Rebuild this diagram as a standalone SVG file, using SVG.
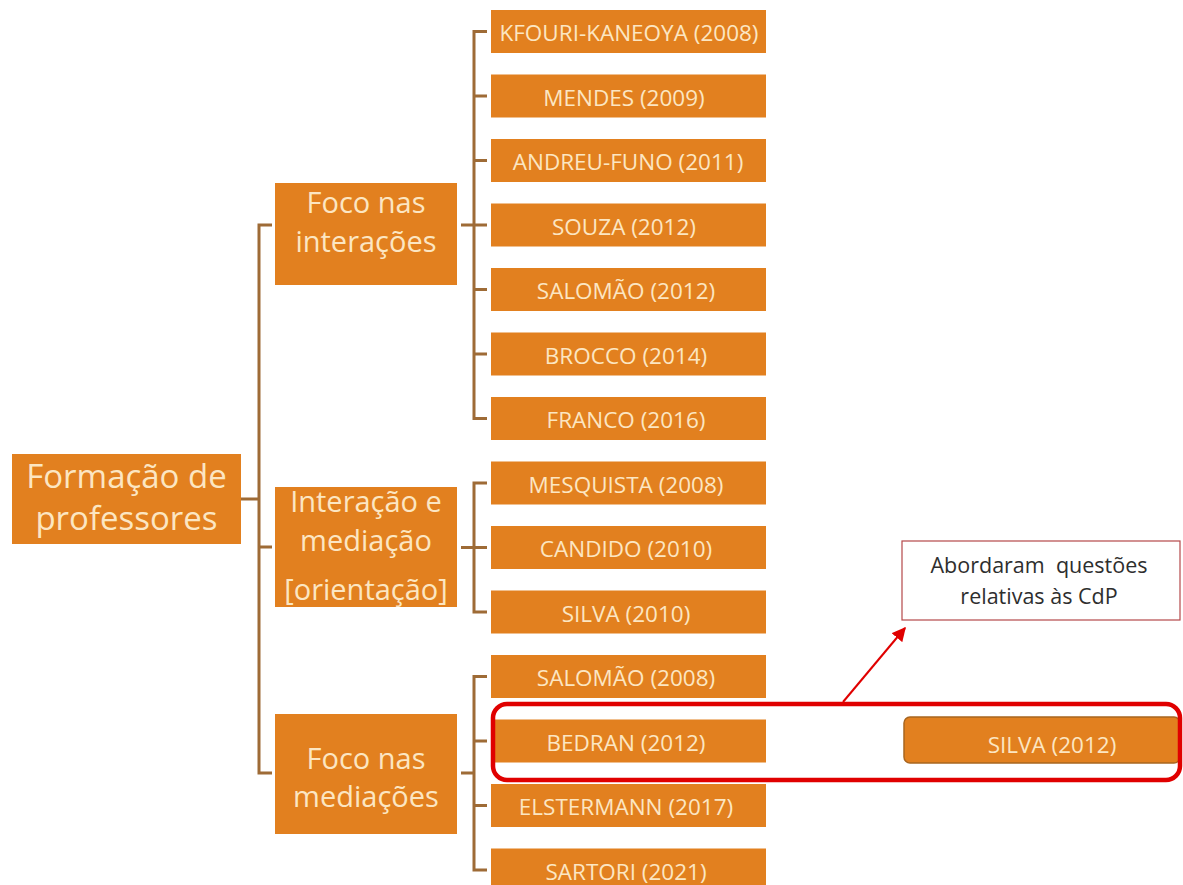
<svg xmlns="http://www.w3.org/2000/svg" width="1183" height="885" viewBox="0 0 1183 885">
<defs>
<style>
.box{fill:#E2801F;}
.t{font-family:"Open Sans","Noto Sans",sans-serif;fill:#FCE6C2;text-anchor:middle;}
.leaf{font-size:22.5px;}
.mid{font-size:29px;}
.root{font-size:33px;}
.con{stroke:#9E6B36;stroke-width:3;fill:none;}
.note{font-family:"Open Sans","Noto Sans",sans-serif;font-size:21.5px;fill:#2E2E2E;text-anchor:middle;white-space:pre;}
</style>
<marker id="ah" viewBox="0 0 10 10" refX="9" refY="5" markerWidth="7" markerHeight="7" orient="auto" markerUnits="strokeWidth">
<path d="M0,0 L10,5 L0,10 z" fill="#E00000"/>
</marker>
</defs>
<rect width="1183" height="885" fill="#FFFFFF"/>

<g id="connectors">
<path class="con" d="M241,499 H259 M272,225 H259 V773 H272 M259,547 H272"/>
<path class="con" d="M461,225 H474 M487,31.5 H474 V418.5 H487 M474,96 H487 M474,160.5 H487 M474,225 H487 M474,289.5 H487 M474,354 H487"/>
<path class="con" d="M461,547.5 H474 M487,483 H474 V612 H487 M474,547.5 H487"/>
<path class="con" d="M461,773 H474 M487,676.5 H474 V870 H487 M474,741 H487 M474,805.5 H487"/>
<line x1="843" y1="702" x2="905" y2="628" stroke="#E00000" stroke-width="2" marker-end="url(#ah)"/>
</g>

<g id="root">
<rect class="box" x="12" y="454" width="229" height="90"/>
<text class="t root" x="126.5" y="488">Formação de</text>
<text class="t root" x="126.5" y="530">professores</text>
</g>

<g id="mid1">
<rect class="box" x="275" y="183" width="182" height="102"/>
<text class="t mid" x="366" y="213">Foco nas</text>
<text class="t mid" x="366" y="252">interações</text>
</g>
<g id="mid2">
<rect class="box" x="275" y="487" width="182" height="120"/>
<text class="t mid" x="366" y="512">Interação e</text>
<text class="t mid" x="366" y="551">mediação</text>
<text class="t mid" x="366" y="600">[orientação]</text>
</g>
<g id="mid3">
<rect class="box" x="275" y="714" width="182" height="120"/>
<text class="t mid" x="366" y="769">Foco nas</text>
<text class="t mid" x="366" y="807">mediações</text>
</g>

<g id="leaf1"><rect class="box" x="491" y="10" width="275" height="43"/><text class="t leaf" x="629" y="41">KFOURI-KANEOYA (2008)</text></g>
<g id="leaf2"><rect class="box" x="491" y="74.5" width="275" height="43"/><text class="t leaf" x="624" y="105.5">MENDES (2009)</text></g>
<g id="leaf3"><rect class="box" x="491" y="139" width="275" height="43"/><text class="t leaf" x="628" y="170">ANDREU-FUNO (2011)</text></g>
<g id="leaf4"><rect class="box" x="491" y="203.5" width="275" height="43"/><text class="t leaf" x="624" y="234.5">SOUZA (2012)</text></g>
<g id="leaf5"><rect class="box" x="491" y="268" width="275" height="43"/><text class="t leaf" x="626" y="299">SALOMÃO (2012)</text></g>
<g id="leaf6"><rect class="box" x="491" y="332.5" width="275" height="43"/><text class="t leaf" x="626" y="363.5">BROCCO (2014)</text></g>
<g id="leaf7"><rect class="box" x="491" y="397" width="275" height="43"/><text class="t leaf" x="626" y="428">FRANCO (2016)</text></g>
<g id="leaf8"><rect class="box" x="491" y="461.5" width="275" height="43"/><text class="t leaf" x="626" y="492.5">MESQUISTA (2008)</text></g>
<g id="leaf9"><rect class="box" x="491" y="526" width="275" height="43"/><text class="t leaf" x="626" y="557">CANDIDO (2010)</text></g>
<g id="leaf10"><rect class="box" x="491" y="590.5" width="275" height="43"/><text class="t leaf" x="626" y="621.5">SILVA (2010)</text></g>
<g id="leaf11"><rect class="box" x="491" y="655" width="275" height="43"/><text class="t leaf" x="626" y="686">SALOMÃO (2008)</text></g>
<g id="leaf12"><rect class="box" x="491" y="719.5" width="275" height="43"/><text class="t leaf" x="626" y="750.5">BEDRAN (2012)</text></g>
<g id="leaf13"><rect class="box" x="491" y="784" width="275" height="43"/><text class="t leaf" x="626" y="815">ELSTERMANN (2017)</text></g>
<g id="leaf14"><rect class="box" x="491" y="848.5" width="275" height="43"/><text class="t leaf" x="626" y="879.5">SARTORI (2021)</text></g>

<g id="silva2012">
<rect x="904" y="717" width="276" height="46" rx="6" fill="#E2801F" stroke="#A8651F" stroke-width="1.5"/>
<text class="t leaf" x="1052" y="753">SILVA (2012)</text>
</g>

<g id="highlight">
<rect x="493" y="704" width="687" height="76" rx="14" fill="none" stroke="#E00000" stroke-width="4.5"/>
</g>

<g id="note">
<rect x="902" y="541" width="278" height="79" fill="#FFFFFF" stroke="#B5484A" stroke-width="1.2"/>
<text class="note" x="1039" y="573">Abordaram  questões</text>
<text class="note" x="1039" y="604">relativas às CdP</text>
</g>
</svg>
